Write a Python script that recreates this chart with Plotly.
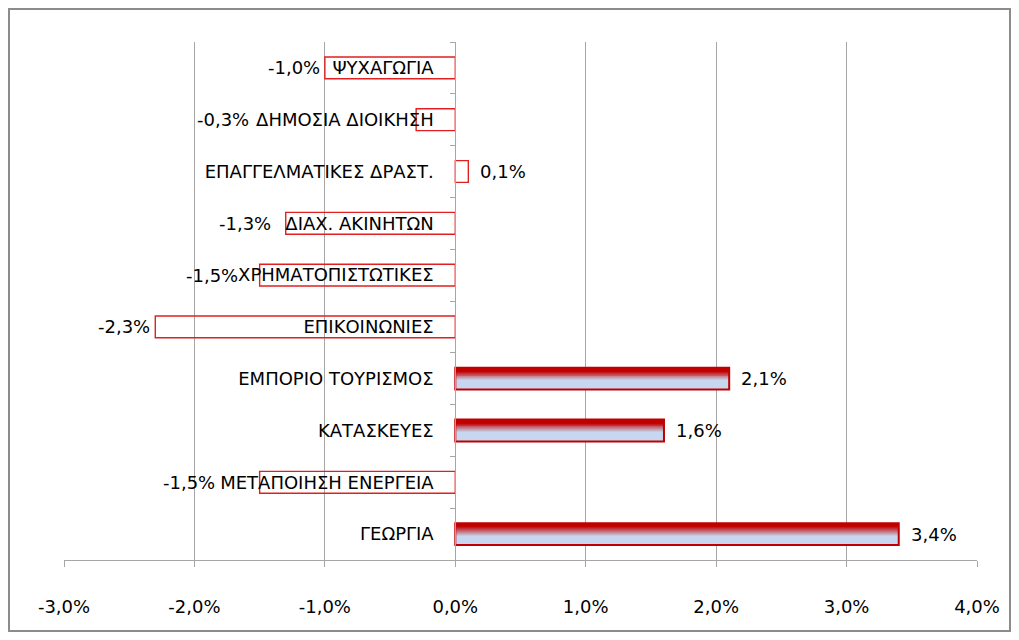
import plotly.graph_objects as go

# datos (% variación por sector), de abajo hacia arriba
sectores = ['ΓΕΩΡΓΙΑ', 'ΜΕΤΑΠΟΙΗΣΗ ΕΝΕΡΓΕΙΑ', 'ΚΑΤΑΣΚΕΥΕΣ', 'ΕΜΠΟΡΙΟ ΤΟΥΡΙΣΜΟΣ',
            'ΕΠΙΚΟΙΝΩΝΙΕΣ', 'ΧΡΗΜΑΤΟΠΙΣΤΩΤΙΚΕΣ', 'ΔΙΑΧ. ΑΚΙΝΗΤΩΝ',
            'ΕΠΑΓΓΕΛΜΑΤΙΚΕΣ ΔΡΑΣΤ.', 'ΔΗΜΟΣΙΑ ΔΙΟΙΚΗΣΗ', 'ΨΥΧΑΓΩΓΙΑ']
valores = [3.4, -1.5, 1.6, 2.1, -2.3, -1.5, -1.3, 0.1, -0.3, -1.0]
x_ticks = [-3, -2, -1, 0, 1, 2, 3, 4]
x_tick_text = ['-3,0%', '-2,0%', '-1,0%', '0,0%', '1,0%', '2,0%', '3,0%', '4,0%']

FONT = 'DejaVu Sans'
FS = 18
BAR_W = 0.42

# geometría del área de trazado (px)
W, H = 1003, 624
ML, MR, MT, MB = 56, 34, 34, 72
PW, PH = W - ML - MR, H - MT - MB
XMIN, XMAX = -3.0, 4.0
px_per = PW / (XMAX - XMIN)
STANDOFF = 18
CHAR_W = 11.1  # ancho medio aprox. de una mayúscula griega


def mix(c1, c2, t):
    return 'rgb(%d,%d,%d)' % tuple(round(a + (b - a) * t) for a, b in zip(c1, c2))


RED = (192, 0, 0)
BLUE = (200, 215, 240)

fig = go.Figure()

# barras positivas grandes: degradado rojo -> azul claro, hecho con franjas
shaded = [v if v >= 1 else None for v in valores]
N = 24
for i in range(N):
    t = (i + 0.5) / N  # 0 abajo, 1 arriba
    if t < 0.45:
        col = mix(BLUE, BLUE, 0)
    elif t > 0.86:
        col = mix(RED, RED, 0)
    else:
        col = mix(BLUE, RED, (t - 0.45) / 0.41)
    fig.add_trace(go.Bar(
        y=sectores, x=shaded, orientation='h',
        width=BAR_W / N + 0.002, offset=-BAR_W / 2 + i * BAR_W / N,
        marker=dict(color=col, line=dict(width=0)),
        hoverinfo='skip', showlegend=False))

# contorno de todas las barras
border = ['#C00000' if v >= 1 else '#E02020' for v in valores]
widths = [2 if v >= 1 else 1.4 for v in valores]
fig.add_trace(go.Bar(
    y=sectores, x=valores, orientation='h', width=BAR_W, offset=-BAR_W / 2,
    marker=dict(color='rgba(255,255,255,0)', line=dict(color=border, width=widths)),
    hoverinfo='skip', showlegend=False))

# etiquetas de valor (las negativas se corren a la izquierda del rótulo del eje)
for s, v in zip(sectores, valores):
    txt = f'{v:.1f}%'.replace('.', ',')
    if v >= 0:
        fig.add_annotation(x=v, y=s, text=txt, showarrow=False, xanchor='left',
                           xshift=10, font=dict(family=FONT, size=FS, color='black'))
    else:
        zero_px = (0 - XMIN) * px_per
        cat_left = zero_px - 5 - STANDOFF - 4 - CHAR_W * len(s)
        bar_px = (v - XMIN) * px_per - 3
        xr = (min(cat_left, bar_px)) / px_per + XMIN
        fig.add_annotation(x=xr, y=s, text=txt, showarrow=False, xanchor='right',
                           font=dict(family=FONT, size=FS, color='black'))

fig.update_layout(
    width=W, height=H,
    barmode='overlay',
    paper_bgcolor='white', plot_bgcolor='white',
    margin=dict(l=ML, r=MR, t=MT, b=MB),
    font=dict(family=FONT, size=FS, color='black'),
    showlegend=False,
    xaxis=dict(range=[XMIN, XMAX], tickvals=x_ticks, ticktext=x_tick_text,
               showgrid=True, gridcolor='#A6A6A6', gridwidth=1,
               zeroline=False, showline=True, linecolor='#A6A6A6', linewidth=1,
               ticks='outside', ticklen=6, tickcolor='#A6A6A6',
               ticklabelstandoff=24, domain=[0, 1],
               tickfont=dict(family=FONT, size=FS, color='black')),
    yaxis=dict(type='category', range=[-0.5, 9.5], anchor='free',
               position=(0 - XMIN) / (XMAX - XMIN),
               showgrid=False, zeroline=False, showline=True, linecolor='#A6A6A6',
               linewidth=1, ticks='outside', ticklen=5, tickcolor='#A6A6A6',
               tickson='boundaries', ticklabelstandoff=STANDOFF,
               tickfont=dict(family=FONT, size=FS, color='black')),
)

# marco exterior del gráfico
fig.add_shape(type='rect', xref='paper', yref='paper',
              x0=(-ML + 1) / PW, x1=1 + (MR - 1) / PW,
              y0=(-MB + 1) / PH, y1=1 + (MT - 1) / PH,
              line=dict(color='#8C8C8C', width=2), layer='below')

fig.write_html('out.html')
